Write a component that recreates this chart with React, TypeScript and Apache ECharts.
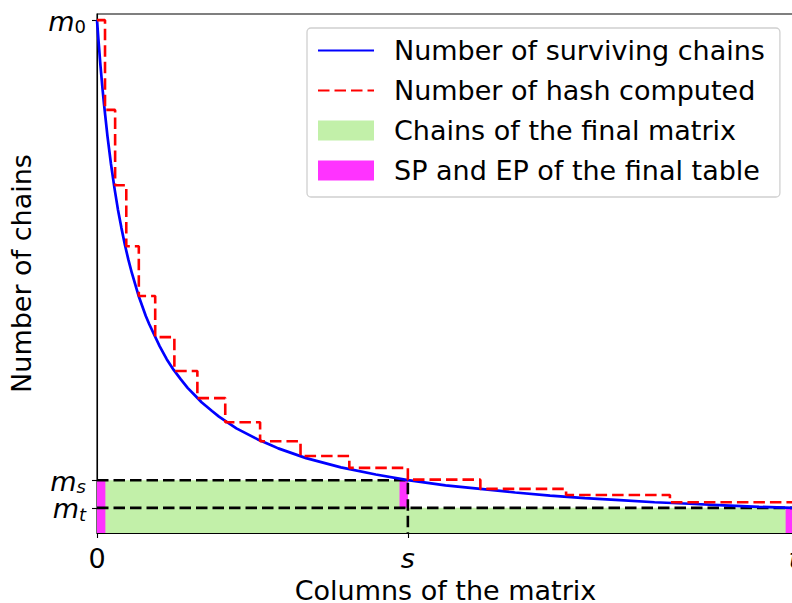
import React, { useEffect, useRef } from "react";
import * as echarts from "echarts";

// Axis scale: columns 0..T, chains 0..M0 (arbitrary units)
const T = 1000;
const S = 446;
const M0 = 1000;
const MS = 103;
const MT = 49;
const Y_MAX = 1012;

// Number of surviving chains (blue curve)
const curveX = [0, 2, 5, 8, 10, 15, 20, 25, 30, 35, 40, 45, 50, 60, 70, 75, 90, 100, 110, 120, 130, 140, 150, 165, 175, 200, 230, 250, 260, 300, 350, 400, 446, 500, 550, 600, 650, 700, 750, 800, 850, 900, 950, 1000];
const curveM = [1000, 963, 911, 865, 837, 774, 720, 673, 631, 595, 562, 533, 507, 461, 423, 407, 364, 339, 318, 300, 283, 269, 255, 238, 227, 204, 183, 171, 165, 146, 128, 114, 103, 93, 86, 79, 73, 68, 64, 60, 57, 54, 51, 49];

// Number of hash computed (red step)
const stepX = [0, 11.5, 26, 42, 60, 83.5, 111, 144, 184, 234, 292, 362, 446, 550, 673, 822, 1000];
const stepM = [1000, 825, 678, 559, 462, 382, 316, 263, 216, 179, 150, 127, 104, 86, 74, 60, 60];

// Rectangles [x0, x1, y0, y1]
const greenRects = [
  [0, S, 0, MS],
  [S, T, 0, MT],
];
const SPW = 12;
const magentaRects = [
  [0, SPW, 0, MS],
  [S - SPW, S, MT, MS],
  [T - SPW, T, 0, MT],
];

const xTickValues = [0, S, T];
const xTickLabels = ["0", "{i|s}", "{i|t}"];
const yTickValuesA = [MS, M0];
const yTickLabelsA = ["{m|m}{sub|s}", "{m|m}{subn|0}"];
const yTickValuesB = [MT];
const yTickLabelsB = ["{m|m}{sub|t}"];

const LEGEND = [
  "Number of surviving chains",
  "Number of hash computed",
  "Chains of the final matrix",
  "SP and EP of the final table",
];

const FONT = "DejaVu Sans";
const GREEN = "#c2f0a9";
const MAGENTA = "#ff33ff";

function rectRender(color: string) {
  return (params: any, api: any) => {
    const p0 = api.coord([api.value(0), api.value(3)]);
    const p1 = api.coord([api.value(1), api.value(2)]);
    return {
      type: "rect",
      shape: { x: p0[0], y: p0[1], width: p1[0] - p0[0], height: p1[1] - p0[1] },
      style: { fill: color },
    };
  };
}

const hiddenSymbol = { color: "rgba(0,0,0,0)", borderColor: "rgba(0,0,0,0)", borderWidth: 0, opacity: 0 };

const subBase = { fontFamily: FONT, fontSize: 18, color: "#000", lineHeight: 7, padding: [13, 0, 0, 0] };
const yRich = {
  m: { fontFamily: FONT, fontSize: 27, fontStyle: "italic", color: "#000", lineHeight: 14, padding: [4, 0, 2, 0] },
  sub: { ...subBase, fontStyle: "italic" },
  subn: { ...subBase, fontStyle: "normal" },
};

function yAxisFor(values: number[], labels: string[], withName: boolean) {
  return {
    type: "value",
    min: 0,
    max: Y_MAX,
    position: "left",
    offset: 0,
    name: withName ? "Number of chains" : "",
    nameLocation: "middle",
    nameGap: 62,
    nameTextStyle: { fontFamily: FONT, fontSize: 27, color: "#000" },
    axisLine: { show: withName, onZero: false, lineStyle: { color: "#000", width: 1.1 } },
    axisTick: { show: true, customValues: values, length: 5, lineStyle: { color: "#000", width: 1.1 } },
    axisLabel: {
      customValues: values,
      hideOverlap: false,
      margin: 11,
      formatter: (v: number) => labels[values.indexOf(v)] ?? "",
      rich: yRich,
    },
    splitLine: { show: false },
  };
}

export default function App() {
  const ref = useRef<HTMLDivElement>(null);
  useEffect(() => {
    if (!ref.current) return;
    const chart = echarts.init(ref.current, null, { renderer: "svg" });
    const dash = [11.5, 5];
    chart.setOption({
      animation: false,
      backgroundColor: "#ffffff",
      grid: {
        left: 97,
        top: 14,
        right: -2,
        bottom: 70,
        show: true,
        borderColor: "#000",
        borderWidth: 1.1,
        containLabel: false,
        outerBoundsMode: "none",
      },
      legend: {
        orient: "vertical",
        left: 307,
        top: 28,
        padding: [9, 15, 13, 10],
        itemWidth: 56,
        itemHeight: 20,
        itemGap: 13,
        backgroundColor: "#fff",
        borderColor: "#d0d0d0",
        borderWidth: 1.3,
        borderRadius: 4,
        textStyle: { fontFamily: FONT, fontSize: 27, color: "#000", lineHeight: 27, padding: [0, 0, 0, 15] },
        data: [
          { name: LEGEND[0], itemStyle: hiddenSymbol },
          { name: LEGEND[1], itemStyle: hiddenSymbol },
          { name: LEGEND[2], icon: "rect" },
          { name: LEGEND[3], icon: "rect" },
        ],
      },
      xAxis: {
        type: "value",
        min: 0,
        max: T,
        name: "Columns of the matrix",
        nameLocation: "middle",
        nameGap: 43,
        nameTextStyle: { fontFamily: FONT, fontSize: 27, color: "#000", lineHeight: 24 },
        axisLine: { show: true, onZero: false, lineStyle: { color: "#000", width: 1.1 } },
        axisTick: { show: true, customValues: xTickValues, length: 5, lineStyle: { color: "#000", width: 1.1 } },
        axisLabel: {
          customValues: xTickValues,
          hideOverlap: false,
          margin: 12,
          fontFamily: FONT,
          fontSize: 27,
          color: "#000",
          formatter: (v: number) => xTickLabels[xTickValues.indexOf(v)] ?? "",
          rich: { i: { fontFamily: FONT, fontSize: 27, fontStyle: "italic", color: "#000" } },
        },
        splitLine: { show: false },
      },
      yAxis: [yAxisFor(yTickValuesA, yTickLabelsA, true), yAxisFor(yTickValuesB, yTickLabelsB, false)],
      series: [
        {
          name: LEGEND[2],
          type: "custom",
          renderItem: rectRender(GREEN),
          encode: { x: [0, 1], y: [2, 3] },
          itemStyle: { color: GREEN },
          data: greenRects,
          z: 1,
        },
        {
          name: LEGEND[3],
          type: "custom",
          renderItem: rectRender(MAGENTA),
          encode: { x: [0, 1], y: [2, 3] },
          itemStyle: { color: MAGENTA },
          data: magentaRects,
          z: 2,
        },
        {
          name: "msLine",
          type: "line",
          symbol: "none",
          data: [[0, MS], [S, MS], [S, 0]],
          lineStyle: { color: "#000", width: 2.6, type: dash },
          z: 3,
          silent: true,
        },
        {
          name: "mtLine",
          type: "line",
          symbol: "none",
          data: [[0, MT], [T, MT]],
          lineStyle: { color: "#000", width: 2.6, type: dash },
          z: 3,
          silent: true,
        },
        {
          name: LEGEND[0],
          type: "line",
          symbol: "none",
          data: curveX.map((x, i) => [x, curveM[i]]),
          lineStyle: { color: "#0000ff", width: 2.7 },
          itemStyle: { color: "#0000ff" },
          z: 4,
        },
        {
          name: LEGEND[1],
          type: "line",
          symbol: "none",
          step: "end",
          data: stepX.map((x, i) => [x, stepM[i]]),
          lineStyle: { color: "#ff0000", width: 2.6, type: dash },
          itemStyle: { color: "#ff0000" },
          z: 5,
        },
      ],
    });
    return () => chart.dispose();
  }, []);
  return (
    <div
      ref={ref}
      style={{ position: "fixed", left: 0, top: 0, width: 792, height: 603, background: "#fff" }}
    />
  );
}
